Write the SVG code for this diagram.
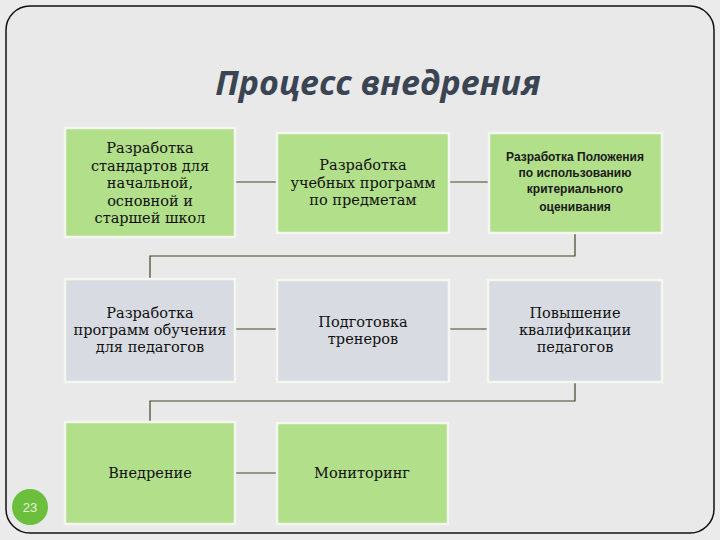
<svg xmlns="http://www.w3.org/2000/svg" width="720" height="540" viewBox="0 0 720 540">
<style>
.g{fill:#b2df8a;stroke:#f4f6f0;stroke-width:2.5}
.s{fill:#d8dce2;stroke:#f4f6f0;stroke-width:2.5}
.t{font-family:"DejaVu Serif",serif;font-size:14.5px;fill:#111;text-anchor:middle}
.a{font-family:"Liberation Sans",Arial,sans-serif;font-size:12px;font-weight:bold;fill:#1a1a1a;text-anchor:middle}
.c{fill:none;stroke:#3d4822;stroke-width:1.2}
</style>
<rect x="0" y="0" width="720" height="540" fill="#ebebeb"/>
<rect x="6" y="6" width="708" height="527" rx="24" ry="24" fill="#e9e9e9" stroke="#111" stroke-width="1.5"/>
<text x="378" y="95" font-family="'Open Sans',sans-serif" font-style="italic" font-weight="bold" font-size="34" fill="#3b4452" text-anchor="middle">Процесс внедрения</text>
<g id="connectors">
<line class="c" x1="235" y1="182" x2="277" y2="182"/>
<line class="c" x1="449" y1="182" x2="489" y2="182"/>
<polyline class="c" points="575,233 575,256 150,256 150,279"/>
<line class="c" x1="235" y1="329" x2="277" y2="329"/>
<line class="c" x1="449" y1="329" x2="488" y2="329"/>
<polyline class="c" points="575,382 575,401 150,401 150,422"/>
<line class="c" x1="235" y1="473" x2="277" y2="473"/>
</g>
<g id="n1"><rect class="g" x="65" y="128" width="170" height="109"/>
<text class="t" x="150" y="153">Разработка</text><text class="t" x="150" y="171">стандартов для</text><text class="t" x="150" y="188">начальной,</text><text class="t" x="150" y="206">основной и</text><text class="t" x="150" y="223">старшей школ</text></g>
<g id="n2"><rect class="g" x="277" y="133" width="172" height="100"/>
<text class="t" x="363" y="170">Разработка</text><text class="t" x="363" y="188">учебных программ</text><text class="t" x="363" y="205">по предметам</text></g>
<g id="n3"><rect class="g" x="489" y="133" width="173" height="100"/>
<text class="a" x="575" y="161">Разработка Положения</text><text class="a" x="575" y="177">по использованию</text><text class="a" x="575" y="193">критериального</text><text class="a" x="575" y="211">оценивания</text></g>
<g id="n4"><rect class="s" x="65" y="279" width="170" height="103"/>
<text class="t" x="150" y="318">Разработка</text><text class="t" x="150" y="335">программ обучения</text><text class="t" x="150" y="352">для педагогов</text></g>
<g id="n5"><rect class="s" x="277" y="280" width="172" height="102"/>
<text class="t" x="363" y="327">Подготовка</text><text class="t" x="363" y="344">тренеров</text></g>
<g id="n6"><rect class="s" x="488" y="280" width="174" height="102"/>
<text class="t" x="575" y="318">Повышение</text><text class="t" x="575" y="335">квалификации</text><text class="t" x="575" y="352">педагогов</text></g>
<g id="n7"><rect class="g" x="65" y="422" width="170" height="102"/>
<text class="t" x="150" y="478">Внедрение</text></g>
<g id="n8"><rect class="g" x="277" y="423" width="171" height="101"/>
<text class="t" x="362" y="478">Мониторинг</text></g>
<g id="page"><circle cx="30" cy="507" r="18" fill="#6cbf3c"/>
<text x="30" y="512" font-family="'Liberation Sans',sans-serif" font-size="13" fill="#e8f5dc" text-anchor="middle">23</text></g>
</svg>
